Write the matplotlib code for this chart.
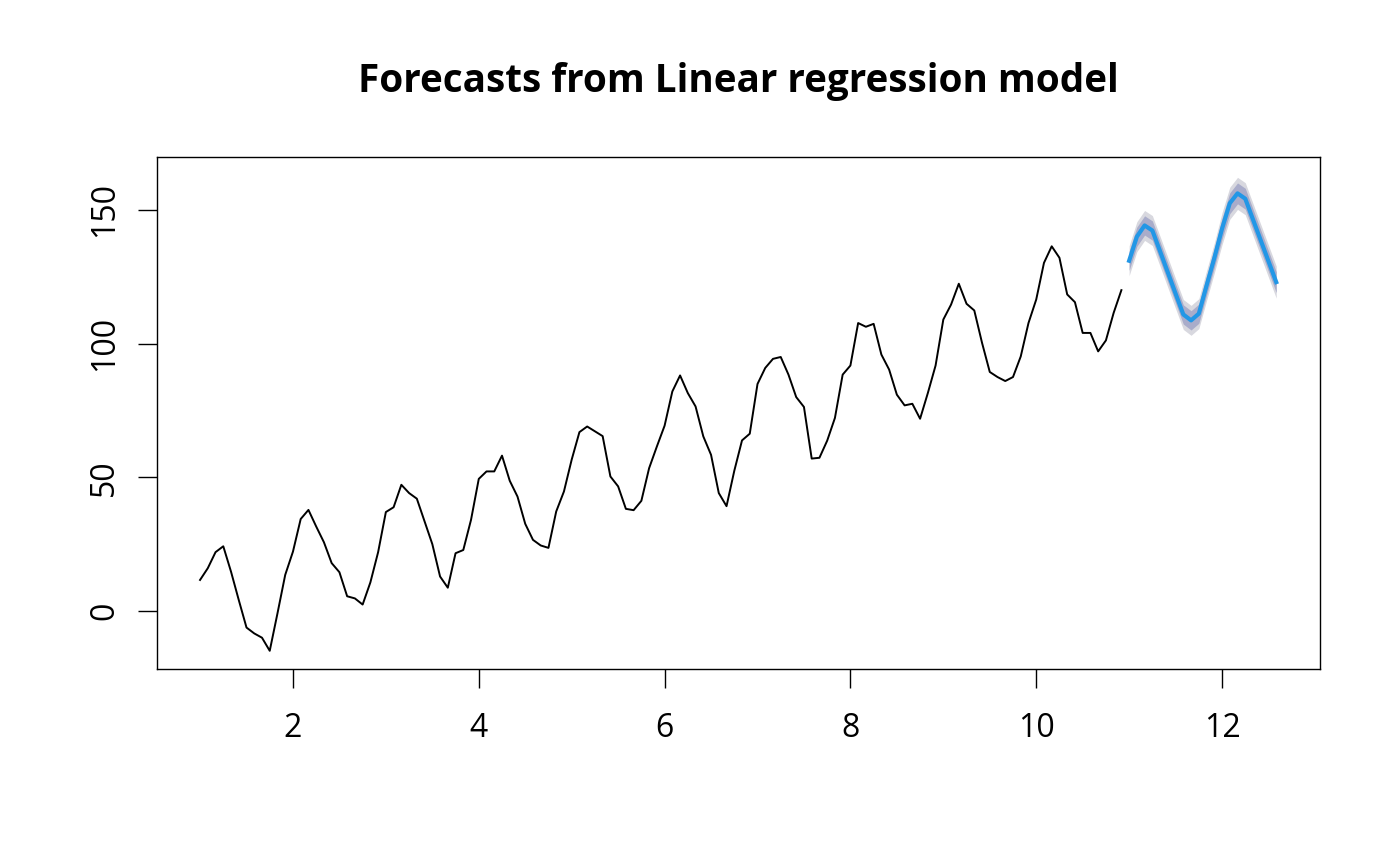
import numpy as np
import matplotlib
matplotlib.use("Agg")
import matplotlib.pyplot as plt

plt.rcParams['font.family'] = ['Open Sans', 'DejaVu Sans']

# monthly series, starts at 1, frequency 12
serie = [
    11.6, 16.0, 22.0, 24.2, 14.7, 4.1, -6.2, -8.4, -10.0, -14.9, -0.9, 13.5,
    22.2, 34.4, 37.8, 31.6, 25.7, 17.9, 14.5, 5.5, 4.7, 2.4, 10.7, 22.0,
    37.0, 38.8, 47.2, 44.1, 42.0, 33.5, 25.0, 12.9, 8.7, 21.6, 22.8, 34.1,
    49.4, 52.2, 52.2, 58.1, 48.7, 42.8, 32.6, 26.6, 24.5, 23.6, 37.2, 44.7,
    56.6, 66.9, 69.0, 67.2, 65.4, 50.3, 46.6, 38.2, 37.7, 41.2, 53.4, 61.5,
    69.3, 82.1, 88.1, 81.5, 76.5, 65.3, 58.4, 44.1, 39.2, 52.4, 63.8, 66.3,
    84.9, 90.9, 94.3, 95.0, 88.4, 80.0, 76.3, 57.0, 57.3, 63.7, 72.2, 88.4,
    91.8, 107.7, 106.3, 107.4, 95.9, 90.3, 80.9, 76.9, 77.5, 71.9, 81.5, 91.8,
    109.0, 114.6, 122.4, 114.9, 112.4, 100.3, 89.4, 87.5, 86.0, 87.5, 95.2, 107.7,
    116.5, 130.2, 136.4, 132.1, 118.4, 115.5, 104.0, 104.0, 97.1, 101.2, 111.5, 120.0,
]

# forecast (20 months from 11) and prediction intervals
previsao = [131.0, 140.0, 144.2, 142.3, 134.5, 126.6, 118.7, 110.9, 108.7, 111.2,
            121.7, 132.0, 143.0, 152.5, 156.2, 154.2, 146.4, 138.6, 130.8, 123.0]
sup80 = [134.6, 143.6, 147.8, 145.9, 138.1, 130.2, 122.3, 114.5, 112.3, 114.8,
         125.3, 135.6, 146.9, 156.4, 160.1, 158.1, 150.3, 142.5, 134.7, 126.9]
inf80 = [127.4, 136.4, 140.6, 138.7, 130.9, 123.0, 115.1, 107.3, 105.1, 107.6,
         118.1, 128.4, 139.1, 148.6, 152.3, 150.3, 142.5, 134.7, 126.9, 119.1]
sup95 = [136.6, 145.6, 149.8, 147.9, 140.1, 132.2, 124.3, 116.5, 114.3, 116.8,
         127.3, 137.6, 149.0, 158.5, 162.2, 160.2, 152.4, 144.6, 136.8, 129.0]
inf95 = [125.4, 134.4, 138.6, 136.7, 128.9, 121.0, 113.1, 105.3, 103.1, 105.6,
         116.1, 126.4, 137.0, 146.5, 150.2, 148.2, 140.4, 132.6, 124.8, 117.0]

x_serie = 1 + np.arange(len(serie)) / 12
x_prev = 11 + np.arange(len(previsao)) / 12

fig = plt.figure(figsize=(14, 8.66), dpi=100)
ax = fig.add_axes([0.1121, 0.2275, 0.8308, 0.5912])

ax.fill_between(x_prev, inf95, sup95, color='#D8D8DF', linewidth=0)
ax.fill_between(x_prev, inf80, sup80, color='#A9ACCA', linewidth=0)
ax.plot(x_serie, serie, color='black', lw=1.4)
ax.plot(x_prev, previsao, color='#2297E6', lw=3.0)

ax.set_xlim(0.536, 13.055)
ax.set_ylim(-21.7, 169.8)
ax.set_xticks([2, 4, 6, 8, 10, 12])
ax.set_yticks([0, 50, 100, 150])
ax.tick_params(direction='out', length=13.7, width=1.0, labelsize=23, pad=17)
ax.tick_params(axis='y', pad=12)
for lab in ax.get_yticklabels():
    lab.set_rotation(90)
    lab.set_va('center')
for s in ax.spines.values():
    s.set_linewidth(1.0)

ax.set_title('Forecasts from Linear regression model', fontsize=27.8,
             fontweight='bold', pad=47)

plt.savefig('out.png', dpi=100)
